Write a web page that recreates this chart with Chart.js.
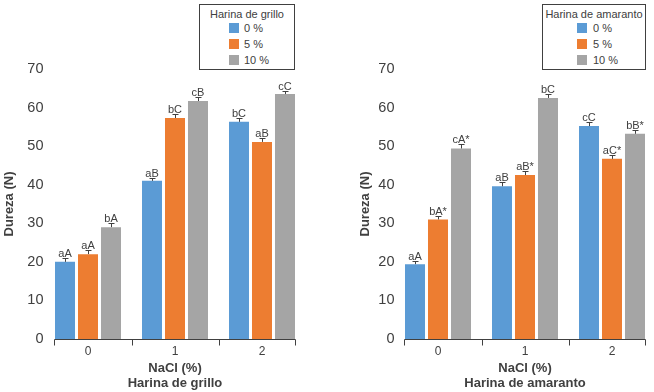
<!DOCTYPE html>
<html lang="es">
<head>
<meta charset="UTF-8">
<title>Dureza</title>
<script src="https://cdn.jsdelivr.net/npm/chart.js"></script>
<style>
  html, body { margin: 0; padding: 0; background: #fff; overflow: hidden; width: 654px; height: 392px; }
  .panel { position: absolute; top: 0; }
  .legend { position: absolute; box-sizing: border-box; border: 1px solid #404040; background: #fff;
            font: 11px "Liberation Sans", Arial, sans-serif; color: #404040; }
  .legend div { position: absolute; white-space: nowrap; line-height: 14px; }
  .legend .sw { width: 10px; height: 10px; }
</style>
</head>
<body>
<canvas id="grillo" class="panel" width="320" height="392" style="left:0"></canvas>
<canvas id="amaranto" class="panel" width="320" height="392" style="left:350px"></canvas>
<div id="legGrillo" class="legend" style="left:199px;top:4px;width:96px;height:66px"></div>
<div id="legAmaranto" class="legend" style="left:542px;top:4px;width:104px;height:66px"></div>
<script>
// NaCl (%) categories and flour levels
const nacl = ['0', '1', '2'];
const levels = ['0 %', '5 %', '10 %'];
const colors = ['#5B9BD5', '#ED7D31', '#A5A5A5'];

// Harina de grillo
const grillo0 = [20.0, 41.0, 56.3];
const grillo5 = [22.0, 57.3, 51.1];
const grillo10 = [29.0, 61.7, 63.5];
const grilloErr0 = [1.0, 0.8, 1.0];
const grilloErr5 = [1.2, 1.0, 1.0];
const grilloErr10 = [1.1, 1.0, 0.9];
const grilloTxt0 = ['aA', 'aB', 'bC'];
const grilloTxt5 = ['aA', 'bC', 'aB'];
const grilloTxt10 = ['bA', 'cB', 'cC'];

// Harina de amaranto
const amaranto0 = [19.4, 39.6, 55.2];
const amaranto5 = [31.0, 42.5, 46.7];
const amaranto10 = [49.4, 62.5, 53.2];
const amarantoErr0 = [0.8, 1.1, 1.0];
const amarantoErr5 = [0.9, 1.0, 1.0];
const amarantoErr10 = [1.1, 1.0, 1.0];
const amarantoTxt0 = ['aA', 'aB', 'cC'];
const amarantoTxt5 = ['bA*', 'aB*', 'aC*'];
const amarantoTxt10 = ['cA*', 'bC', 'bB*'];

const yTicks = [0, 10, 20, 30, 40, 50, 60, 70];

const FONT = '"Liberation Sans", Arial, sans-serif';
const TXT = '#404040';

// error bars, letters over bars and the short category axis line
const extras = {
  id: 'extras',
  afterDatasetsDraw(chart) {
    const ctx = chart.ctx;
    const ys = chart.scales.y;
    const xs = chart.scales.x;
    ctx.save();
    ctx.strokeStyle = TXT;
    ctx.fillStyle = TXT;
    ctx.lineWidth = 1;
    ctx.font = '11px ' + FONT;
    ctx.textAlign = 'center';
    ctx.textBaseline = 'alphabetic';
    chart.data.datasets.forEach((ds, i) => {
      chart.getDatasetMeta(i).data.forEach((bar, j) => {
        const top = Math.round(ys.getPixelForValue(ds.data[j] + ds.errors[j])) + 0.5;
        const bx = Math.round(bar.x) + 0.5;
        ctx.beginPath();
        ctx.moveTo(bx, bar.y);
        ctx.lineTo(bx, top);
        ctx.moveTo(bx - 3, top);
        ctx.lineTo(bx + 3, top);
        ctx.stroke();
        ctx.fillText(ds.letters[j], bar.x, top - 2);
      });
    });

    const first = chart.getDatasetMeta(0).data[0];
    const lastMeta = chart.getDatasetMeta(chart.data.datasets.length - 1);
    const last = lastMeta.data[lastMeta.data.length - 1];
    const x0 = Math.round(first.x - first.width / 2) - 0.5;
    const x1 = Math.round(last.x + last.width / 2) + 0.5;
    const base = Math.round(ys.getPixelForValue(0)) + 0.5;
    const marks = [x0, x1];
    for (let k = 0; k < nacl.length - 1; k++) {
      marks.push(Math.round((xs.getPixelForValue(k) + xs.getPixelForValue(k + 1)) / 2) + 0.5);
    }
    ctx.beginPath();
    ctx.moveTo(x0, base);
    ctx.lineTo(x1, base);
    marks.forEach(m => { ctx.moveTo(m, base); ctx.lineTo(m, base + 6); });
    ctx.stroke();
    ctx.restore();
  }
};

function makeChart(id, vals, errs, txts, xName, tickPad, titlePad) {
  return new Chart(document.getElementById(id), {
    type: 'bar',
    data: {
      labels: nacl,
      datasets: levels.map((lv, i) => ({
        label: lv,
        data: vals[i],
        errors: errs[i],
        letters: txts[i],
        backgroundColor: colors[i],
        borderWidth: 0,
        categoryPercentage: 0.793,
        barPercentage: 0.87
      }))
    },
    options: {
      responsive: false,
      animation: false,
      layout: { padding: { top: 69, right: 14.5, left: 0, bottom: 0 } },
      plugins: { legend: { display: false }, tooltip: { enabled: false } },
      scales: {
        x: {
          grid: { display: false, drawTicks: false, tickLength: 0 },
          border: { display: false },
          ticks: { color: TXT, padding: 5, font: { family: FONT, size: 12 } },
          title: {
            display: true,
            text: ['NaCl (%)', xName],
            color: TXT,
            font: { family: FONT, size: 13, weight: 'bold', lineHeight: 15 / 13 },
            padding: { top: 0, bottom: 1.5 }
          },
          afterFit(s) { s.height = 53; }
        },
        y: {
          min: yTicks[0],
          max: yTicks[yTicks.length - 1],
          grid: { display: false, drawTicks: false, tickLength: 0 },
          border: { display: false },
          ticks: { stepSize: 10, color: TXT, padding: tickPad, font: { family: FONT, size: 14.5 } },
          title: {
            display: true,
            text: 'Dureza (N)',
            color: TXT,
            font: { family: FONT, size: 13, weight: 'bold', lineHeight: 15 / 13 },
            padding: { top: titlePad, bottom: 0 }
          },
          afterFit(s) { s.width = 44.5; }
        }
      }
    },
    plugins: [extras]
  });
}

function makeLegend(id, title, swX, txtX) {
  const box = document.getElementById(id);
  const t = document.createElement('div');
  t.textContent = title;
  t.style.left = '0'; t.style.width = '100%'; t.style.textAlign = 'center'; t.style.top = '2px';
  box.appendChild(t);
  const rows = [23.5, 39.5, 55.5];
  levels.forEach((lv, i) => {
    const sw = document.createElement('div');
    sw.className = 'sw';
    sw.style.background = colors[i];
    sw.style.left = swX + 'px';
    sw.style.top = (rows[i] - 5 - 1) + 'px';
    box.appendChild(sw);
    const tx = document.createElement('div');
    tx.textContent = lv;
    tx.style.left = txtX + 'px';
    tx.style.top = (rows[i] - 7 - 1) + 'px';
    box.appendChild(tx);
  });
}

makeChart('grillo', [grillo0, grillo5, grillo10], [grilloErr0, grilloErr5, grilloErr10],
  [grilloTxt0, grilloTxt5, grilloTxt10], 'Harina de grillo', 1, 2);
makeChart('amaranto', [amaranto0, amaranto5, amaranto10], [amarantoErr0, amarantoErr5, amarantoErr10],
  [amarantoTxt0, amarantoTxt5, amarantoTxt10], 'Harina de amaranto', 0, 8);

makeLegend('legGrillo', 'Harina de grillo', 29, 44);
makeLegend('legAmaranto', 'Harina de amaranto', 34, 50);
</script>
</body>
</html>
